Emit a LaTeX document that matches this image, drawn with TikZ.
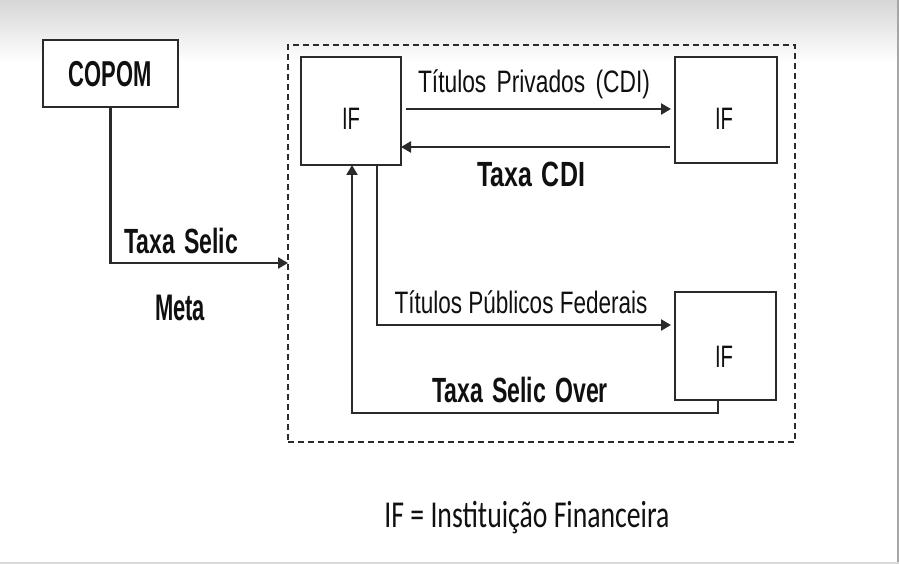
\documentclass[tikz,border=0pt]{standalone}
\usepackage{fontspec}
\usepackage{graphicx}
\setmainfont{Liberation Sans}
\newfontfamily\legfont{Carlito}
\usetikzlibrary{arrows.meta}
\definecolor{ln}{HTML}{2A2A2A}
\definecolor{tx}{HTML}{101010}
\newcommand\fw[2]{\resizebox{#1pt}{\height}{#2}}
\newcommand\rg{\fontsize{31}{36}\selectfont}
\newcommand\bd{\fontsize{35}{40}\selectfont\bfseries}
\newcommand\ws{\hspace{14pt}}
\tikzset{
  box/.style={draw=ln, line width=2.3pt, fill=white, inner sep=0pt, outer sep=0pt},
  frame/.style={draw=ln, line width=2.2pt, dash pattern=on 6pt off 4pt, inner sep=0pt, outer sep=0pt},
  arr/.style={draw=ln, line width=2.3pt, -{Triangle[length=10pt,width=11pt]}},
  lbl/.style={text=tx, inner sep=0pt, anchor=base}
}
\begin{document}
\begin{tikzpicture}[x=1pt,y=-1pt]
\useasboundingbox (0,0) rectangle (899,564);
\fill[white] (0,0) rectangle (899,564);
\shade[top color=black!16, bottom color=white] (0,0) rectangle (899,62);
\draw[black!35, line width=1.5pt] (898,0) -- (898,564);
\draw[black!15, line width=1.5pt] (0,563) -- (899,563);

% frame
\node[frame, minimum width=507, minimum height=397] (frame) at (541.5,243.5) {};

% boxes
\node[box, minimum width=135, minimum height=67] (copom) at (110.5,73.5) {};
\node[box, minimum width=100, minimum height=108] (if1) at (351,111) {};
\node[box, minimum width=102, minimum height=106] (if2) at (726,110) {};
\node[box, minimum width=101, minimum height=108] (if3) at (725.5,346) {};

% box labels
\node[lbl] (tcopom) at (110,87) {\fw{83}{\fontsize{36}{40}\selectfont\bfseries COPOM}};
\node[lbl] (tif1) at (351,130) {\fw{18}{\rg IF}};
\node[lbl] (tif2) at (724,130) {\fw{18}{\rg IF}};
\node[lbl] (tif3) at (724,367) {\fw{18}{\rg IF}};

% connectors
\coordinate (selicY) at (0,263);
\draw[arr] (copom.south) |- (frame.west |- selicY);
\draw[arr] ([shift={(5,-2)}]if1.east) -- ([shift={(-4,-1)}]if2.west);
\draw[arr] ([shift={(-5,37)}]if2.west) -- ([shift={(0,36)}]if1.east);
\draw[arr] ([xshift=26]if1.south) |- ([shift={(-4,-21)}]if3.west);
\draw[arr] ([xshift=-7.5]if3.south) -- ++(0,13) -| ([xshift=1]if1.south);

% connector labels
\node[lbl] (tselic) at (181,253) {\fw{114}{\bd Taxa\ws{}Selic}};
\node[lbl] (tmeta) at (180,320) {\fw{50}{\fontsize{37}{40}\selectfont\bfseries Meta}};
\node[lbl] (tpriv) at (534,93) {\fw{232}{\rg Títulos\ws{}Privados\ws{}(CDI)}};
\node[lbl] (tcdi) at (531,187) {\fw{108}{\bd Taxa\ws{}CDI}};
\node[lbl] (tpub) at (521,313) {\fw{253}{\rg Títulos Públicos Federais}};
\node[lbl] (tover) at (520,402) {\fw{176}{\bd Taxa\ws{}Selic\ws{}Over}};

% legend
\node[lbl] (leg) at (527,527) {\fw{285}{\fontsize{38}{42}\legfont IF = Instituição Financeira}};
\end{tikzpicture}
\end{document}
